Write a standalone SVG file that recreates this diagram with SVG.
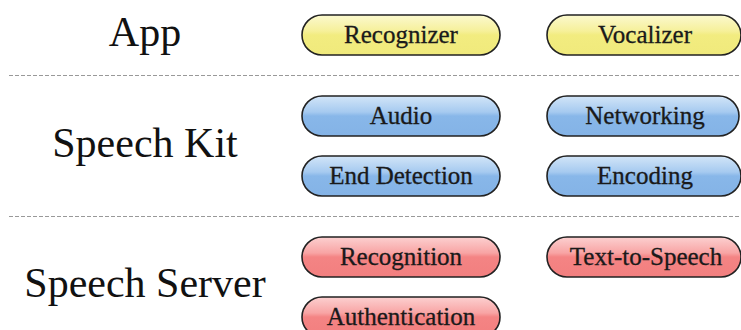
<svg xmlns="http://www.w3.org/2000/svg" width="741" height="330" viewBox="0 0 741 330">
<defs>
<linearGradient id="gy" x1="0" y1="0" x2="0" y2="1">
<stop offset="0" stop-color="#fbf9cf"/><stop offset="0.4" stop-color="#f6f09a"/><stop offset="0.5" stop-color="#f2ec80"/><stop offset="1" stop-color="#f0ea7c"/>
</linearGradient>
<linearGradient id="gb" x1="0" y1="0" x2="0" y2="1">
<stop offset="0" stop-color="#d2e5f8"/><stop offset="0.4" stop-color="#a6caf0"/><stop offset="0.5" stop-color="#88b7e9"/><stop offset="1" stop-color="#84b3e6"/>
</linearGradient>
<linearGradient id="gr" x1="0" y1="0" x2="0" y2="1">
<stop offset="0" stop-color="#fcd0d0"/><stop offset="0.4" stop-color="#f8a4a4"/><stop offset="0.5" stop-color="#f48484"/><stop offset="1" stop-color="#f27f7f"/>
</linearGradient>
</defs>
<style>
.lab{font-family:"Liberation Serif",serif;font-size:42px;fill:#111;text-anchor:middle}
.t{font-family:"Liberation Serif",serif;font-size:25px;fill:#1a1a1a;text-anchor:middle;stroke:#1a1a1a;stroke-width:0.3}
.p{stroke:#222;stroke-width:1.6}
.y{fill:url(#gy)}.b{fill:url(#gb)}.r{fill:url(#gr)}
.sep{stroke:#999;stroke-width:1;stroke-dasharray:4 2}
</style>
<g id="labels">
<text class="lab" x="145" y="46">App</text>
<text class="lab" x="145" y="157">Speech Kit</text>
<text class="lab" x="145" y="297">Speech Server</text>
</g>
<g id="connectors">
<line class="sep" x1="9" y1="75.5" x2="741" y2="75.5"/>
<line class="sep" x1="9" y1="216.5" x2="741" y2="216.5"/>
</g>
<g id="recognizer"><rect class="p y" x="302" y="15" width="198" height="40" rx="20"/><text class="t" x="401" y="43">Recognizer</text></g>
<g id="vocalizer"><rect class="p y" x="547" y="15" width="194" height="40" rx="20"/><text class="t" x="645" y="43">Vocalizer</text></g>
<g id="audio"><rect class="p b" x="302" y="96" width="198" height="40" rx="20"/><text class="t" x="401" y="124">Audio</text></g>
<g id="networking"><rect class="p b" x="547" y="96" width="192" height="40" rx="20"/><text class="t" x="645" y="124">Networking</text></g>
<g id="end-detection"><rect class="p b" x="302" y="156" width="198" height="40" rx="20"/><text class="t" x="401" y="184">End Detection</text></g>
<g id="encoding"><rect class="p b" x="547" y="156" width="194" height="40" rx="20"/><text class="t" x="645" y="184">Encoding</text></g>
<g id="recognition"><rect class="p r" x="302" y="237" width="198" height="40" rx="20"/><text class="t" x="401" y="265">Recognition</text></g>
<g id="text-to-speech"><rect class="p r" x="547" y="237" width="194" height="40" rx="20"/><text class="t" x="646" y="265">Text-to-Speech</text></g>
<g id="authentication"><rect class="p r" x="302" y="297" width="198" height="40" rx="20"/><text class="t" x="401" y="325">Authentication</text></g>
</svg>
